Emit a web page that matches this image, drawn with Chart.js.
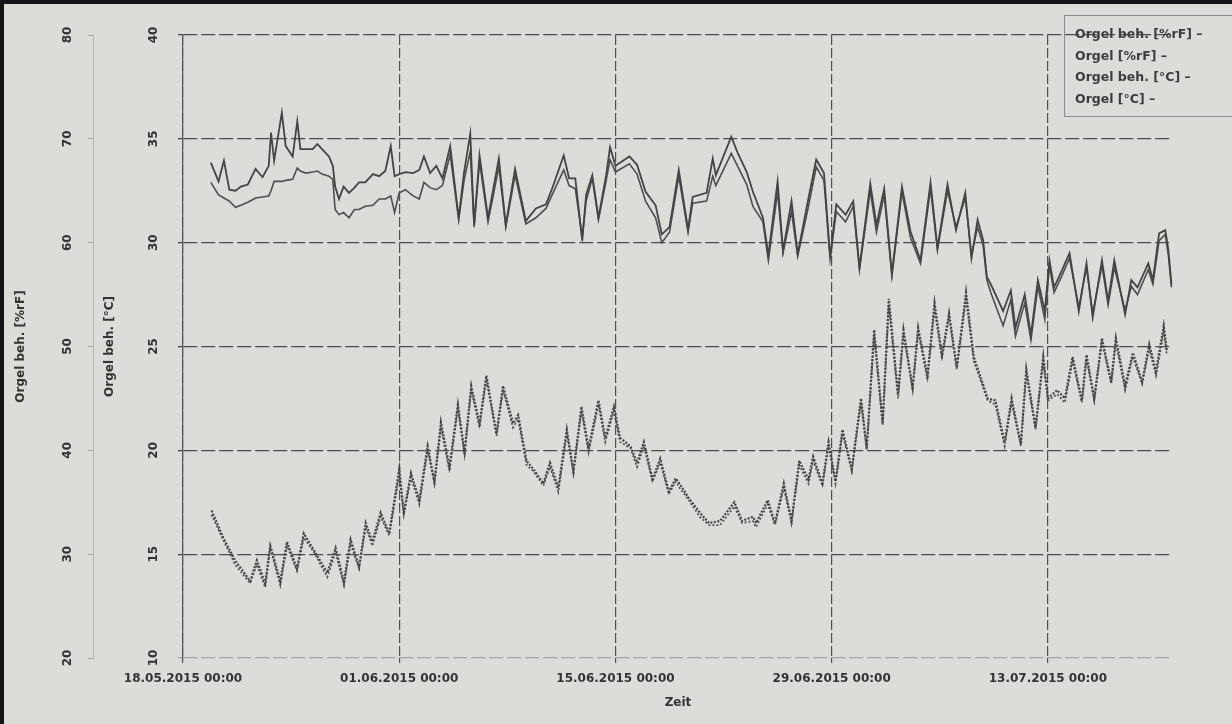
<!DOCTYPE html>
<html>
<head>
<meta charset="utf-8">
<script src="https://cdn.jsdelivr.net/npm/chart.js@4.4.0/dist/chart.umd.min.js"></script>
<style>
  body { margin: 0; background: #dcdcd8; }
  #wrap { position: relative; width: 1232px; height: 724px; overflow: hidden; background: #dcdcd8; }
  #frame { position: absolute; left: 0; top: 0; width: 1232px; height: 724px; box-sizing: border-box;
           border-left: 4px solid #141414; border-top: 4px solid #141414; pointer-events: none; }
  #legend { position: absolute; left: 1064px; top: 15px; width: 180px; height: 102px; box-sizing: border-box;
            border: 1px solid #8c8c8c; padding: 7px 0 0 10px;
            font: bold 12.5px 'DejaVu Sans', sans-serif; color: #3c3c3c; }
  #legend div { height: 21.5px; line-height: 21.5px; white-space: nowrap; }
</style>
</head>
<body>
<div id="wrap">
  <canvas id="chart" width="1232" height="724"></canvas>
  <div id="legend"></div>
  <div id="frame"></div>
</div>
<script>
// time axis in days since 18.05.2015 00:00
const startDate = Date.UTC(2015, 4, 18);
const xTickDays = [0, 14, 28, 42, 56];
const seriesLabels = ['Orgel beh. [%rF]', 'Orgel [%rF]', 'Orgel beh. [°C]', 'Orgel [°C]'];

// relative humidity (%rF)
const rhDays = [
  1.8, 2.3, 2.65, 3.0, 3.4, 3.75, 4.2, 4.7, 5.15, 5.55,
  5.7, 5.9, 6.4, 6.65, 7.1, 7.4, 7.6, 7.95, 8.4, 8.7,
  9.0, 9.45, 9.7, 9.85, 10.1, 10.4, 10.75, 11.1, 11.4, 11.8,
  12.3, 12.7, 13.1, 13.45, 13.7, 14.0, 14.4, 14.9, 15.3, 15.6,
  16.0, 16.4, 16.8, 17.3, 17.85, 18.2, 18.6, 18.85, 19.2, 19.75,
  20.45, 20.9, 21.5, 22.2, 22.85, 23.5, 23.9, 24.65, 25.0, 25.4,
  25.85, 26.1, 26.5, 26.9, 27.4, 27.65, 28.0, 28.9, 29.4, 29.95,
  30.6, 31.0, 31.5, 32.1, 32.7, 33.0, 33.9, 34.3, 34.5, 35.5,
  35.9, 36.5, 36.9, 37.55, 37.9, 38.5, 38.85, 39.4, 39.8, 40.5,
  41.0, 41.5, 41.9, 42.3, 42.9, 43.4, 43.8, 44.5, 44.9, 45.4,
  45.9, 46.55, 47.1, 47.75, 48.4, 48.85, 49.5, 50.05, 50.65, 51.05,
  51.45, 51.8, 52.05, 52.3, 52.8, 53.1, 53.6, 53.9, 54.5, 54.9,
  55.35, 55.8, 56.1, 56.4, 56.9, 57.4, 58.0, 58.5, 58.9, 59.5,
  59.9, 60.3, 61.0, 61.4, 61.8, 62.5, 62.8, 63.2, 63.6, 63.8,
  64.0
];
const rhBeh = [
  67.7, 65.9, 67.9, 65.1, 65.0, 65.4, 65.6, 67.1, 66.3, 67.4,
  70.6, 67.9, 72.5, 69.3, 68.3, 71.7, 69.0, 69.0, 69.0, 69.5,
  69.0, 68.3, 67.4, 65.4, 64.2, 65.4, 64.8, 65.3, 65.8, 65.8,
  66.6, 66.4, 66.9, 69.3, 66.4, 66.6, 66.8, 66.7, 67.0, 68.3,
  66.7, 67.4, 66.2, 69.3, 62.4, 66.8, 70.5, 61.7, 68.4, 62.4,
  68.1, 61.7, 67.1, 62.1, 63.3, 63.7, 65.2, 68.4, 66.2, 66.2,
  60.2, 64.6, 66.5, 62.4, 66.5, 69.2, 67.4, 68.3, 67.5, 64.9,
  63.6, 60.8, 61.5, 67.0, 61.3, 64.4, 64.8, 68.1, 66.5, 70.2,
  68.7, 66.8, 64.9, 62.4, 58.8, 65.9, 59.2, 64.0, 58.9, 64.3,
  68.0, 66.7, 58.6, 63.7, 62.7, 64.0, 57.6, 65.7, 61.7, 65.2,
  57.0, 65.4, 61.1, 58.3, 65.8, 59.5, 65.6, 61.2, 64.8, 58.5,
  62.2, 60.3, 56.7, 56.0, 54.4, 53.4, 55.4, 51.8, 55.0, 51.1,
  56.4, 53.4, 58.3, 55.7, 57.3, 59.0, 53.4, 58.0, 52.8, 58.3,
  54.4, 58.3, 53.1, 56.4, 55.7, 58.0, 56.4, 60.9, 61.2, 59.3,
  56.0
];
const rhOrgel = [
  65.8, 64.6, 64.3, 64.0, 63.4, 63.6, 63.9, 64.3, 64.4, 64.5,
  65.0, 65.9, 65.9, 66.0, 66.1, 67.2, 66.9, 66.7, 66.8, 66.9,
  66.6, 66.4, 66.1, 63.2, 62.7, 62.9, 62.4, 63.2, 63.2, 63.5,
  63.6, 64.2, 64.2, 64.5, 62.9, 64.8, 65.1, 64.5, 64.2, 65.8,
  65.3, 65.1, 65.5, 68.5, 62.2, 66.0, 68.8, 61.5, 67.8, 62.0,
  67.3, 61.5, 66.5, 61.8, 62.4, 63.3, 64.6, 67.0, 65.5, 65.2,
  60.5, 64.0, 66.2, 62.2, 66.0, 68.0, 66.8, 67.6, 66.6, 64.0,
  62.4, 60.0, 61.0, 66.4, 61.0, 63.8, 64.0, 66.4, 65.5, 68.6,
  67.4, 65.6, 63.5, 62.0, 58.3, 64.9, 59.0, 63.0, 58.7, 63.5,
  67.3, 66.0, 58.4, 63.0, 62.0, 63.5, 57.4, 65.0, 61.0, 64.6,
  56.8, 64.9, 60.5, 58.0, 65.2, 59.3, 65.0, 61.5, 64.3, 58.8,
  61.5, 59.8, 56.4, 55.2, 53.2, 52.0, 54.5, 51.0, 54.2, 50.6,
  55.8, 52.6, 57.8, 55.2, 56.8, 58.5, 53.8, 57.6, 53.2, 57.8,
  54.0, 57.6, 53.5, 55.8, 55.0, 57.4, 56.0, 60.2, 60.8, 58.8,
  55.7
];

// temperature (°C)
const tempDays = [
  1.85, 2.6, 3.37, 4.35, 4.78, 5.32, 5.65, 6.3, 6.73, 7.38,
  7.82, 8.47, 9.34, 9.88, 10.42, 10.85, 11.4, 11.83, 12.26, 12.8,
  13.35, 14.0, 14.3, 14.76, 15.3, 15.84, 16.28, 16.7, 17.25, 17.8,
  18.23, 18.66, 19.2, 19.64, 20.3, 20.72, 21.37, 21.7, 22.24, 22.68,
  23.33, 23.76, 24.3, 24.85, 25.28, 25.8, 26.26, 26.9, 27.34, 27.9,
  28.3, 28.97, 29.4, 29.84, 30.4, 30.9, 31.46, 31.9, 32.15, 32.75,
  33.46, 34.06, 34.77, 35.7, 36.2, 36.9, 37.1, 37.86, 38.33, 38.9,
  39.4, 39.9, 40.5, 40.8, 41.4, 41.8, 42.25, 42.7, 43.3, 43.9,
  44.27, 44.75, 45.3, 45.7, 46.3, 46.65, 47.24, 47.6, 48.2, 48.66,
  49.14, 49.6, 50.1, 50.7, 51.2, 52.1, 52.6, 53.2, 53.65, 54.25,
  54.6, 55.2, 55.7, 56.0, 56.6, 57.1, 57.6, 58.2, 58.5, 59.0,
  59.5, 60.1, 60.4, 61.0, 61.5, 62.1, 62.56, 63.0, 63.5, 63.7
];
const tempBeh = [
  17.1, 15.8, 14.7, 13.7, 14.7, 13.6, 15.4, 13.7, 15.6, 14.3,
  16.0, 15.2, 14.1, 15.3, 13.65, 15.7, 14.4, 16.5, 15.6, 17.0,
  16.0, 19.1, 17.0, 18.9, 17.6, 20.2, 18.5, 21.35, 19.2, 22.2,
  19.9, 23.1, 21.3, 23.6, 20.8, 23.1, 21.3, 21.7, 19.5, 19.1,
  18.4, 19.4, 18.2, 21.0, 19.0, 22.1, 20.1, 22.4, 20.6, 22.1,
  20.6, 20.2, 19.4, 20.4, 18.6, 19.6, 18.0, 18.65, 18.4, 17.7,
  17.0, 16.5, 16.6, 17.5, 16.6, 16.8, 16.5, 17.6, 16.5, 18.4,
  16.6, 19.5, 18.6, 19.7, 18.4, 20.4, 18.5, 21.0, 19.1, 22.5,
  20.1, 25.8, 21.3, 27.3, 22.7, 25.8, 23.0, 25.9, 23.6, 27.1,
  24.6, 26.6, 24.0, 27.6, 24.5, 22.5, 22.4, 20.4, 22.5, 20.3,
  23.9, 21.1, 24.5, 22.5, 22.9, 22.5, 24.5, 22.4, 24.6, 22.5,
  25.4, 23.3, 25.4, 23.1, 24.7, 23.3, 25.1, 23.8, 26.0, 24.8
];
const tempOrgel = [
  16.9, 15.7, 14.5, 13.6, 14.5, 13.4, 15.3, 13.5, 15.4, 14.2,
  15.8, 15.1, 13.9, 15.1, 13.5, 15.5, 14.3, 16.3, 15.4, 16.8,
  15.9, 18.8, 16.9, 18.7, 17.4, 20.0, 18.4, 21.1, 19.0, 22.0,
  19.8, 22.9, 21.1, 23.4, 20.7, 22.9, 21.1, 21.5, 19.3, 19.0,
  18.3, 19.2, 18.0, 20.8, 18.9, 21.9, 19.9, 22.2, 20.4, 21.9,
  20.4, 20.1, 19.2, 20.2, 18.5, 19.4, 17.9, 18.5, 18.2, 17.6,
  16.8, 16.4, 16.4, 17.3, 16.5, 16.6, 16.3, 17.4, 16.4, 18.2,
  16.5, 19.3, 18.4, 19.5, 18.3, 20.2, 18.4, 20.8, 19.0, 22.3,
  20.0, 25.5, 21.2, 27.0, 22.5, 25.6, 22.9, 25.7, 23.4, 26.8,
  24.4, 26.4, 23.9, 27.3, 24.3, 22.4, 22.2, 20.2, 22.3, 20.2,
  23.7, 21.0, 24.3, 22.4, 22.7, 22.3, 24.3, 22.3, 24.4, 22.4,
  25.2, 23.2, 25.2, 22.9, 24.5, 23.2, 24.9, 23.6, 25.7, 24.6
];

function toPoints(days, values) {
  return days.map((d, i) => ({ x: d, y: values[i] }));
}

function pad2(n) {
  return String(n).padStart(2, '0');
}

function formatDay(day) {
  const dt = new Date(startDate + day * 86400000);
  return pad2(dt.getUTCDate()) + '.' + pad2(dt.getUTCMonth() + 1) + '.' + dt.getUTCFullYear() +
    ' ' + pad2(dt.getUTCHours()) + ':' + pad2(dt.getUTCMinutes());
}

const textColor = '#333333';
const boldFont = { family: "'DejaVu Sans', sans-serif", size: 12, weight: 'bold' };

const chart = new Chart(document.getElementById('chart'), {
  type: 'line',
  data: {
    datasets: [
      {
        label: seriesLabels[0],
        data: toPoints(rhDays, rhBeh),
        yAxisID: 'yRH',
        borderColor: '#444444',
        borderWidth: 1.8
      },
      {
        label: seriesLabels[1],
        data: toPoints(rhDays, rhOrgel),
        yAxisID: 'yRH',
        borderColor: '#4e4e4e',
        borderWidth: 1.6
      },
      {
        label: seriesLabels[2],
        data: toPoints(tempDays, tempBeh),
        yAxisID: 'yT',
        borderColor: '#454545',
        borderWidth: 2.2,
        borderDash: [2, 1.5]
      },
      {
        label: seriesLabels[3],
        data: toPoints(tempDays, tempOrgel),
        yAxisID: 'yT',
        borderColor: '#555555',
        borderWidth: 1.8,
        borderDash: [2, 2]
      }
    ]
  },
  options: {
    responsive: false,
    animation: false,
    devicePixelRatio: 1,
    elements: {
      point: { radius: 0 },
      line: { tension: 0, fill: false }
    },
    layout: {
      padding: { left: 4, right: 59, top: 35, bottom: 0 }
    },
    plugins: {
      legend: { display: false },
      tooltip: { enabled: false }
    },
    scales: {
      x: {
        type: 'linear',
        min: 0,
        max: 64.1,
        afterBuildTicks: scale => {
          scale.ticks = xTickDays.map(v => ({ value: v }));
        },
        afterFit: scale => { scale.height = 66; },
        ticks: {
          color: textColor,
          font: boldFont,
          padding: 9,
          maxRotation: 0,
          autoSkip: false,
          callback: value => formatDay(value)
        },
        grid: {
          color: '#505050',
          lineWidth: 1.2,
          tickLength: 5
        },
        border: { display: false, dash: [10, 3] },
        title: {
          display: true,
          text: 'Zeit',
          color: textColor,
          font: boldFont,
          padding: { top: 0, bottom: 14 }
        }
      },
      yT: {
        type: 'linear',
        position: 'left',
        weight: 0,
        min: 10,
        max: 40,
        afterFit: scale => { scale.width = 90; },
        ticks: {
          stepSize: 5,
          color: textColor,
          font: boldFont,
          padding: 16,
          minRotation: 90,
          maxRotation: 90,
          crossAlign: 'center'
        },
        grid: {
          color: ctx => (ctx.tick && ctx.tick.value === 10) ? '#a4a4a4' : '#4a4a4a',
          lineWidth: 1.3,
          tickLength: 5
        },
        border: { display: true, color: '#555555', width: 1.2, dash: [14, 4] },
        title: {
          display: true,
          text: 'Orgel beh. [°C]',
          color: textColor,
          font: boldFont,
          padding: { top: 10, bottom: 0 }
        }
      },
      yRH: {
        type: 'linear',
        position: 'left',
        weight: 10,
        min: 20,
        max: 80,
        afterFit: scale => { scale.width = 89; },
        ticks: {
          stepSize: 10,
          color: textColor,
          font: boldFont,
          padding: 12,
          minRotation: 90,
          maxRotation: 90,
          crossAlign: 'center'
        },
        grid: {
          drawOnChartArea: false,
          color: '#a6a6a6',
          tickLength: 5
        },
        border: { display: true, color: '#b4b4b4', width: 1 },
        title: {
          display: true,
          text: 'Orgel beh. [%rF]',
          color: textColor,
          font: boldFont,
          padding: { top: 10, bottom: 0 }
        }
      }
    }
  }
});

// legend box in the top right corner
const legendEl = document.getElementById('legend');
chart.data.datasets.forEach(ds => {
  const row = document.createElement('div');
  row.textContent = ds.label + ' \u2013';
  legendEl.appendChild(row);
});
</script>
</body>
</html>
